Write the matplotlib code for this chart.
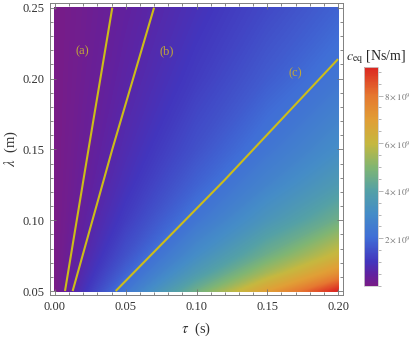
import numpy as np
import matplotlib
matplotlib.use("Agg")
import matplotlib.pyplot as plt
from matplotlib.colors import LinearSegmentedColormap, Normalize
from matplotlib.cm import ScalarMappable
from matplotlib.ticker import MultipleLocator, FixedLocator

plt.rcParams['font.family'] = ['Liberation Serif', 'DejaVu Serif']
plt.rcParams['mathtext.fontset'] = 'stix'

# ---- data ----
tau = [0.0, 0.05, 0.10, 0.15, 0.20]                       # s
lam = [0.05, 0.0625, 0.075, 0.10, 0.125, 0.15, 0.20, 0.25]  # m
# c_eq in units of 1e9 Ns/m, rows = lam, cols = tau
c_eq = [
    [0.0, 2.30, 4.60, 6.90, 9.20],
    [0.0, 1.84, 3.68, 5.52, 7.36],
    [0.0, 1.53, 3.07, 4.60, 6.13],
    [0.0, 1.15, 2.30, 3.45, 4.60],
    [0.0, 0.92, 1.84, 2.76, 3.68],
    [0.0, 0.77, 1.53, 2.30, 3.07],
    [0.0, 0.58, 1.15, 1.73, 2.30],
    [0.0, 0.46, 0.92, 1.38, 1.84],
]
c_min, c_max = 0.0, 9.2

# curves (a), (b), (c): tau values at given lambda
lam_a = [0.05, 0.15, 0.25]
tau_a = [0.0071, 0.0237, 0.0405]
lam_b = [0.05, 0.15, 0.25]
tau_b = [0.0125, 0.0405, 0.0700]
lam_c = [0.05, 0.1285, 0.2137]
tau_c = [0.0429, 0.1200, 0.2000]

curve_labels = ['(a)', '(b)', '(c)']
label_tau = [0.0193, 0.079, 0.1696]
label_lam = [0.219, 0.219, 0.2038]

cbar_ticks = [2, 4, 6, 8]

# ---- colormap (Mathematica-like "Rainbow") ----
cm_pts = [
    (0.00, (0.47, 0.11, 0.53)),
    (0.05, (0.38, 0.13, 0.62)),
    (0.11, (0.26, 0.21, 0.74)),
    (0.22, (0.25, 0.43, 0.84)),
    (0.33, (0.27, 0.55, 0.78)),
    (0.435, (0.33, 0.63, 0.65)),
    (0.54, (0.50, 0.71, 0.45)),
    (0.65, (0.77, 0.72, 0.25)),
    (0.76, (0.88, 0.62, 0.21)),
    (0.87, (0.90, 0.47, 0.19)),
    (1.00, (0.86, 0.15, 0.13)),
]
cmap = LinearSegmentedColormap.from_list('mrainbow', cm_pts)
norm = Normalize(vmin=c_min, vmax=c_max)

W, H = 415, 340
fig = plt.figure(figsize=(W / 100, H / 100), dpi=100)
ax = fig.add_axes([50 / W, 1 - 295 / H, 293 / W, 292 / H])

T, L = np.meshgrid(tau, lam)
ax.contourf(T, L, np.array(c_eq), levels=np.linspace(c_min, c_max, 256),
            cmap=cmap, norm=norm, antialiased=False)

line_col = (0.80, 0.74, 0.10)
for tt, ll in [(tau_a, lam_a), (tau_b, lam_b), (tau_c, lam_c)]:
    ax.plot(tt, ll, color=line_col, lw=1.5, solid_capstyle='butt')
for s, xx, yy in zip(curve_labels, label_tau, label_lam):
    ax.text(xx, yy, s, color=(0.76, 0.66, 0.22), fontsize=9,
            ha='center', va='center')

pad = 0.0035
ax.set_xlim(0 - pad, 0.2 + pad)
ax.set_ylim(0.05 - 0.0028, 0.25 + 0.0033)
ax.xaxis.set_major_locator(FixedLocator([0, 0.05, 0.10, 0.15, 0.20]))
ax.yaxis.set_major_locator(FixedLocator([0.05, 0.10, 0.15, 0.20, 0.25]))
ax.xaxis.set_minor_locator(MultipleLocator(0.01))
ax.yaxis.set_minor_locator(MultipleLocator(0.01))
ax.xaxis.set_major_formatter(plt.FuncFormatter(lambda v, p: f"{v:.2f}"))
ax.yaxis.set_major_formatter(plt.FuncFormatter(lambda v, p: f"{v:.2f}"))
ax.tick_params(which='both', direction='in', top=True, right=True,
               color=(0.45, 0.45, 0.45), width=0.6, labelsize=9,
               labelcolor=(0.2, 0.2, 0.2))
ax.tick_params(which='major', length=4.5, pad=4)
ax.tick_params(which='minor', length=2.5)
for sp in ax.spines.values():
    sp.set_color((0.5, 0.5, 0.5))
    sp.set_linewidth(0.7)
ax.set_xlabel(r'$\tau$  (s)', fontsize=10.5, labelpad=6, color=(0.2, 0.2, 0.2))
ax.set_ylabel(r'$\lambda$  (m)', fontsize=10.5, labelpad=2, color=(0.2, 0.2, 0.2))

# colorbar
cax = fig.add_axes([363.5 / W, 1 - 286 / H, 14 / W, 219 / H])
sm = ScalarMappable(norm=norm, cmap=cmap)
cb = fig.colorbar(sm, cax=cax)
cb.set_ticks(cbar_ticks)
cb.set_ticklabels([rf'${t}\times10^{{9}}$' for t in cbar_ticks])
cb.ax.yaxis.set_minor_locator(MultipleLocator(0.5))
cb.ax.tick_params(which='both', direction='out', color=(0.6, 0.6, 0.6),
                  width=0.5, labelsize=6.5, labelcolor=(0.45, 0.45, 0.45), pad=1.5)
cb.ax.tick_params(which='major', length=3.5)
cb.ax.tick_params(which='minor', length=2.5)
cb.outline.set_edgecolor((0.8, 0.8, 0.8))
cb.outline.set_linewidth(0.6)
fig.text(376 / W, 1 - 57 / H, r'$c_{\rm eq}$ [Ns/m]', fontsize=10,
         ha='center', va='center', color=(0.15, 0.15, 0.15))

fig.savefig('out.png', dpi=100)
